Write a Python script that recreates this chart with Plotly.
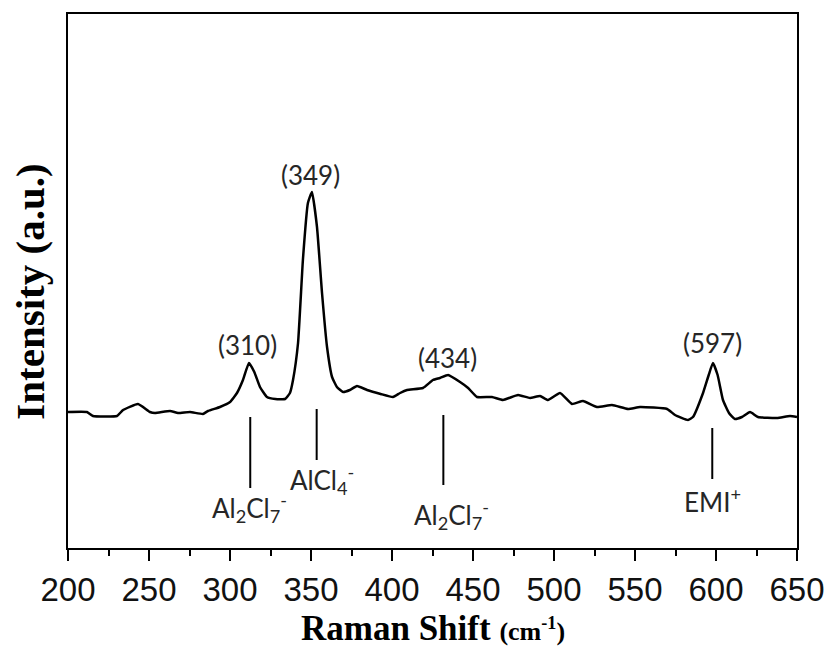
import plotly.graph_objects as go

# Raman spectrum
wavenumber = [200, 211.7, 215.4, 230.2, 234, 243.2, 250.6, 253.7, 263, 267.9, 275.3, 283.3, 286.4,
              293.8, 300, 304.3, 308, 311.7, 315, 318.5, 322.8, 328, 334, 337, 338.9, 342, 345,
              348.1, 350.6, 353.7, 356.8, 359.9, 363, 366, 369.8, 374, 378.4, 384.6, 393, 400.6,
              405, 409.3, 419.1, 425.3, 429.6, 434.6, 442, 447, 452.5, 461.7, 468.5, 477.8, 485.2,
              491.4, 496.3, 503.7, 511.1, 517.9, 526.5, 535.8, 545.7, 553.1, 569.8, 574.7, 582.7,
              585.8, 592, 595.5, 598.1, 601, 604.3, 608, 611.7, 616, 621, 625.9, 637.7, 645.7, 650]
intensity = [136, 136, 132, 132, 138, 144, 136, 135, 137, 135, 136, 134, 137,
             141, 146, 155, 168, 185, 176, 161, 151, 149, 149, 155, 168, 205, 288,
             345, 356, 321, 255, 201, 171, 161, 156, 158, 162, 158, 154, 151,
             155, 158, 160, 168, 170, 173, 166, 160, 151, 151, 148, 153, 150,
             152, 148, 155, 144, 147, 141, 143, 139, 141, 139, 133, 128,
             131, 155, 173, 185, 173, 148, 135, 129, 131, 136, 131, 130, 132, 131]

# Peak labels
peak_labels = ["(310)", "(349)", "(434)", "(597)"]
peak_label_x = [311.1, 349.4, 434, 598.1]
peak_label_y = [203, 373, 190, 205]

# Assignment markers
marker_x = [312.5, 353.5, 431.7, 597.7]
marker_top = [131, 139, 133, 120]
marker_bottom = [60, 88, 63, 69]
assign_labels = ["Al<sub>2</sub>Cl<sub>7</sub><sup>-</sup>", "AlCl<sub>4</sub><sup>-</sup>",
                 "Al<sub>2</sub>Cl<sub>7</sub><sup>-</sup>", "EMI<sup>+</sup>"]
assign_x = [312.3, 356.8, 437, 598]
assign_y = [40, 68, 33, 48]

x_ticks = [200, 250, 300, 350, 400, 450, 500, 550, 600, 650]

fig = go.Figure()
fig.add_trace(go.Scatter(x=wavenumber, y=intensity, mode="lines",
                         line=dict(color="black", width=2.5, shape="spline", smoothing=0.4),
                         showlegend=False, hoverinfo="skip"))

mx, my = [], []
for x, t, b in zip(marker_x, marker_top, marker_bottom):
    mx += [x, x, None]
    my += [t, b, None]
fig.add_trace(go.Scatter(x=mx, y=my, mode="lines", line=dict(color="black", width=2),
                         showlegend=False, hoverinfo="skip"))

ann_font = dict(family="Lato, Open Sans, sans-serif", size=26, color="#262626")
annotations = []
for t, x, y in zip(peak_labels, peak_label_x, peak_label_y):
    annotations.append(dict(x=x, y=y, text=t, showarrow=False, font=ann_font,
                            xanchor="center", yanchor="middle"))
for t, x, y in zip(assign_labels, assign_x, assign_y):
    annotations.append(dict(x=x, y=y, text=t, showarrow=False, font=ann_font,
                            xanchor="center", yanchor="middle"))

title_font = dict(family="Liberation Serif, Times New Roman, serif", size=35, color="black")
annotations.append(dict(xref="paper", yref="paper", x=0.5, y=0, yshift=-80,
                        text="<b>Raman Shift <span style='font-size:26px'>(cm<sup>-1</sup>)</span></b>",
                        showarrow=False, font=title_font, xanchor="center", yanchor="middle"))
annotations.append(dict(xref="paper", yref="paper", x=0, xshift=-38, y=0.48,
                        text="<b>Intensity (a.u.)</b>", textangle=-90,
                        showarrow=False,
                        font=dict(family="Liberation Serif, Times New Roman, serif", size=41,
                                  color="black"),
                        xanchor="center", yanchor="middle"))

fig.update_layout(
    width=826, height=648,
    margin=dict(l=68, r=29, t=14, b=100),
    paper_bgcolor="white", plot_bgcolor="white",
    annotations=annotations,
    xaxis=dict(range=[200, 650], tickvals=x_ticks, ticks="outside", ticklen=11, tickwidth=2,
               tickcolor="black", showline=True, linecolor="black", linewidth=2, mirror=True,
               showgrid=False, zeroline=False, automargin=False,
               tickfont=dict(family="Liberation Sans, Arial, sans-serif", size=33, color="#111"),
               minor=dict(dtick=25, ticks="outside", ticklen=6, tickwidth=2, tickcolor="black",
                          showgrid=False)),
    yaxis=dict(range=[0, 534], showticklabels=False, ticks="", showline=True, linecolor="black",
               linewidth=2, mirror=True, showgrid=False, zeroline=False, automargin=False),
)

fig.write_html("out.html", config={"displayModeBar": False},
               post_script="document.body.style.margin='0';document.body.style.overflow='hidden';")
